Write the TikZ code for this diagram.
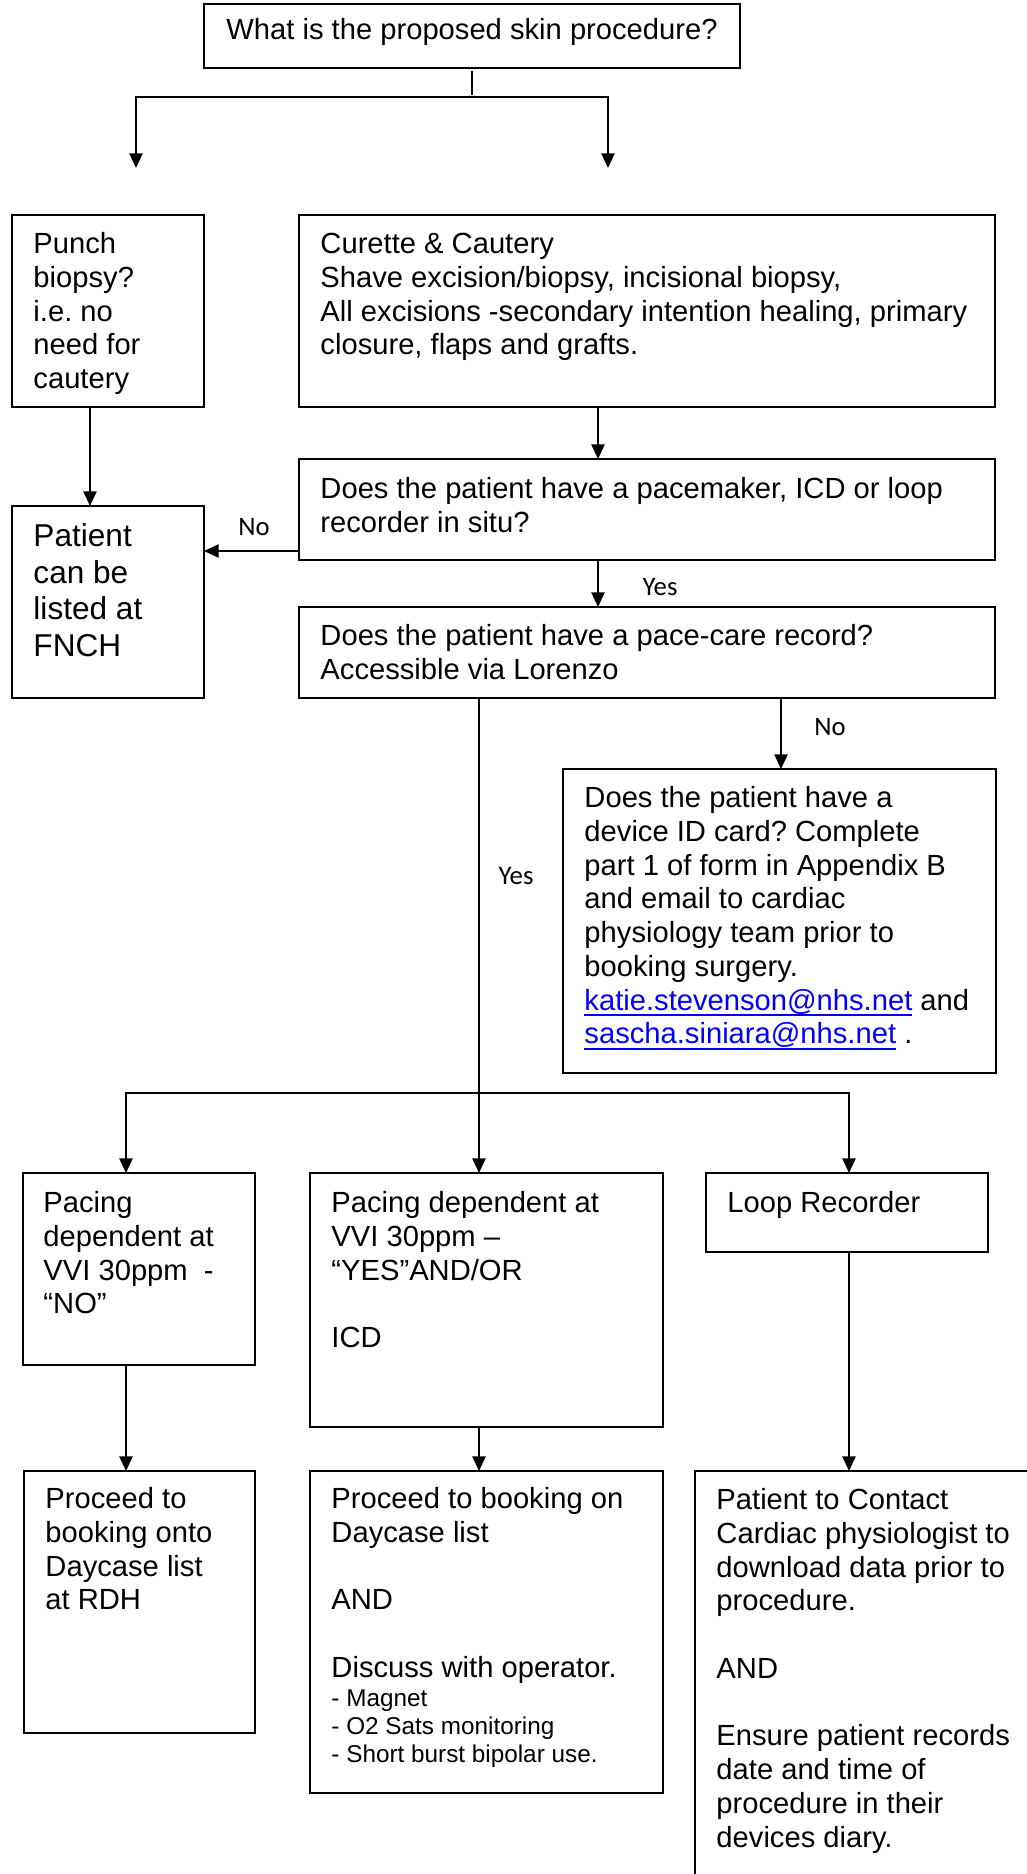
\documentclass[tikz,border=0pt]{standalone}
\usepackage{fontspec}
\setmainfont{Liberation Sans}
\newfontfamily\calib{Carlito}
\usetikzlibrary{arrows.meta}
\definecolor{linkblue}{RGB}{0,0,255}
\def\pxu{0.4115pt}
\newcommand\lnk[1]{{\color{linkblue}\setbox0\hbox{#1}\rlap{\rule[-2.6pt]{\wd0}{0.9pt}}\box0}}
\frenchspacing
\begin{document}
\frenchspacing
\begin{tikzpicture}[x=\pxu, y=-\pxu,
  box/.style={draw, line width=0.9pt, rectangle, anchor=north west, inner sep=0pt, outer sep=0pt},
  tbase/.style={anchor=north west, inner sep=0pt, align=left},
  txt/.style={tbase, font=\fontsize{12}{13.9}\selectfont\frenchspacing, yshift=9.73pt},
  txtbig/.style={tbase, font=\fontsize{13}{15.1}\selectfont\frenchspacing, yshift=10.57pt},
  txtsmall/.style={tbase, font=\fontsize{10}{11.5}\selectfont\frenchspacing, yshift=8.05pt},
  lbl/.style={anchor=base, inner sep=0pt, font=\calib\fontsize{11}{13}\selectfont},
  line/.style={line width=0.8pt},
  arr/.style={line width=0.8pt, -{Triangle[length=6pt,width=5.4pt]}},
  arr2/.style={line width=0.8pt, {Triangle[length=6pt,width=5.4pt]}-{Triangle[length=6pt,width=5.4pt]}}
]
\clip (0,0) rectangle (1027,1874);
\fill[white] (0,0) rectangle (1027,1874);

% boxes
\node[box, minimum width=536*\pxu, minimum height=64*\pxu] (top) at (204,4) {};
\node[box, minimum width=192*\pxu, minimum height=192*\pxu] (punch) at (12,215) {};
\node[box, minimum width=696*\pxu, minimum height=192*\pxu] (curette) at (299,215) {};
\node[box, minimum width=696*\pxu, minimum height=101*\pxu] (pacem) at (299,459) {};
\node[box, minimum width=192*\pxu, minimum height=192*\pxu] (patient) at (12,506) {};
\node[box, minimum width=696*\pxu, minimum height=91*\pxu] (pace) at (299,607) {};
\node[box, minimum width=433*\pxu, minimum height=304*\pxu] (device) at (563,769) {};
\node[box, minimum width=232*\pxu, minimum height=192*\pxu] (pacno) at (23,1173) {};
\node[box, minimum width=353*\pxu, minimum height=254*\pxu] (pacyes) at (310,1173) {};
\node[box, minimum width=282*\pxu, minimum height=79*\pxu] (loop) at (706,1173) {};
\node[box, minimum width=231*\pxu, minimum height=262*\pxu] (rdh) at (24,1471) {};
\node[box, minimum width=353*\pxu, minimum height=322*\pxu] (daycase) at (310,1471) {};
\node[box, minimum width=400*\pxu, minimum height=450*\pxu] (contact) at (695,1471) {};

% texts
\node[anchor=base, inner sep=0pt, font=\fontsize{12}{13.9}\selectfont] (ttop) at (472,39) {What is the proposed skin procedure?};
\node[txt] (tpunch) at (33,253) {\strut Punch\\biopsy?\\i.e. no\\need for\\cautery};
\node[txt] (tcurette) at (320,253) {\strut Curette \& Cautery\\Shave excision/biopsy, incisional biopsy,\\All excisions -secondary intention healing, primary\\closure, flaps and grafts.};
\node[txt] (tpacem) at (320,498) {\strut Does the patient have a pacemaker, ICD or loop\\recorder in situ?};
\node[txtbig] (tpatient) at (33,546) {\strut Patient\\can be\\listed at\\FNCH};
\node[txt] (tpace) at (320,645) {\strut Does the patient have a pace-care record?\\Accessible via Lorenzo};
\node[txt] (tdevice) at (584,807) {\strut Does the patient have a\\device ID card? Complete\\part 1 of form in Appendix B\\and email to cardiac\\physiology team prior to\\booking surgery.\\\lnk{katie.stevenson@nhs.net} and\\\lnk{sascha.siniara@nhs.net} .};
\node[txt] (tpacno) at (43,1212) {\strut Pacing\\dependent at\\VVI 30ppm\ \ -\\“NO”};
\node[txt] (tpacyes) at (331,1212) {\strut Pacing dependent at\\VVI 30ppm –\\“YES”AND/OR\\\mbox{}\\ICD};
\node[txt] (tloop) at (727,1212) {\strut Loop Recorder};
\node[txt] (trdh) at (45,1508) {\strut Proceed to\\booking onto\\Daycase list\\at RDH};
\node[txt] (tday) at (331,1508) {\strut Proceed to booking on\\Daycase list\\\mbox{}\\AND\\\mbox{}\\Discuss with operator.};
\node[txtsmall] (tdaysmall) at (331,1706) {\strut - Magnet\\- O2 Sats monitoring\\- Short burst bipolar use.};
\node[txt] (tcontact) at (716,1509) {\strut Patient to Contact\\Cardiac physiologist to\\download data prior to\\procedure.\\\mbox{}\\AND\\\mbox{}\\Ensure patient records\\date and time of\\procedure in their\\devices diary.};

% labels
\node[lbl] (lno1) at (254,535) {No};
\node[lbl] (lyes1) at (660,595) {Yes};
\node[lbl] (lno2) at (830,735) {No};
\node[lbl] (lyes2) at (516,884) {Yes};

% helper coordinates
\coordinate (stemend) at (470,95);
\coordinate (b1L) at (136,97);
\coordinate (b1R) at (608,97);
\coordinate (a1L) at (136,168);
\coordinate (a1R) at (608,168);
\coordinate (xA) at (598,0);
\coordinate (xP) at (90,0);
\coordinate (xN) at (781,0);
\coordinate (xY) at (479,0);
\coordinate (xL) at (126,0);
\coordinate (xR) at (849,0);
\coordinate (yNo) at (0,551);
\coordinate (bus2) at (0,1093);

% connectors
\draw[line] ([yshift=-1.3pt]top.south) -- (top.south |- stemend);
\draw[arr2] (a1L) -- (b1L) -- (b1R) -- (a1R);
\draw[arr] (curette.south -| xA) -- (pacem.north -| xA);
\draw[arr] (punch.south -| xP) -- (patient.north -| xP);
\draw[arr] (pacem.west |- yNo) -- (patient.east |- yNo);
\draw[arr] (pacem.south -| xA) -- (pace.north -| xA);
\draw[arr] (pace.south -| xN) -- (device.north -| xN);
\draw[arr] (pace.south -| xY) -- (pacyes.north -| xY);
\draw[arr2] (pacno.north -| xL) -- (xL |- bus2) -- (xR |- bus2) -- (loop.north -| xR);
\draw[arr] (pacno.south -| xL) -- (rdh.north -| xL);
\draw[arr] (pacyes.south -| xY) -- (daycase.north -| xY);
\draw[arr] (loop.south -| xR) -- (contact.north -| xR);
\end{tikzpicture}
\end{document}
